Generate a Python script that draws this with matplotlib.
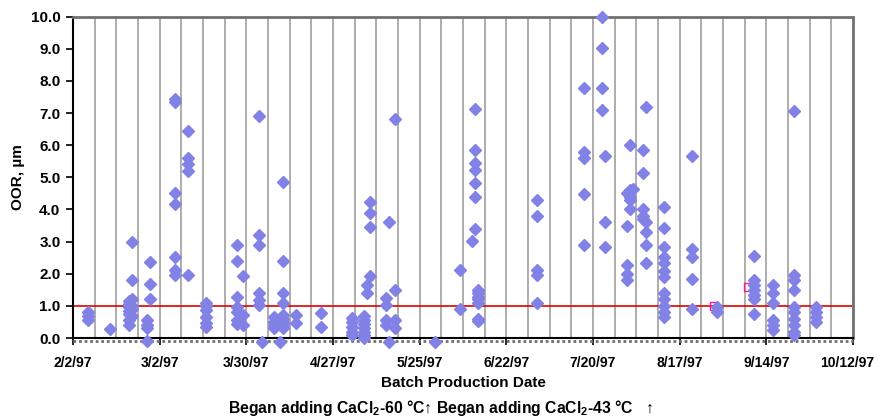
import matplotlib
matplotlib.use("Agg")
import matplotlib.pyplot as plt
import matplotlib.dates as mdates
from matplotlib.lines import Line2D
from matplotlib.transforms import offset_copy, ScaledTranslation
import pandas as pd

plt.rcParams['font.family'] = ['Liberation Sans', 'DejaVu Sans']
plt.rcParams['mathtext.fontset'] = 'custom'
plt.rcParams['mathtext.rm'] = 'Liberation Sans:bold'
plt.rcParams['mathtext.bf'] = 'Liberation Sans:bold'

# ---- data: OOR (µm) per batch production date ----
oor_groups = {
    "1997-02-07": [0.80, 0.68, 0.55],
    "1997-02-14": [0.28],
    "1997-02-20": [1.15, 1.05, 0.95, 0.85, 0.75, 0.55, 0.40],
    "1997-02-21": [3.0, 1.8, 1.2, 1.0, 0.9, 0.7],
    "1997-02-26": [0.55, 0.40, 0.31, -0.10],
    "1997-02-27": [2.38, 1.68, 1.20],
    "1997-03-07": [7.45, 7.35, 4.50, 4.17, 2.52, 2.12, 1.95],
    "1997-03-11": [6.43, 5.60, 5.40, 5.20, 1.96],
    "1997-03-17": [1.10, 1.00, 0.87, 0.66, 0.46, 0.35],
    "1997-03-27": [2.90, 2.41, 1.29, 0.98, 0.82, 0.56, 0.45],
    "1997-03-29": [1.93, 0.72, 0.40],
    "1997-04-03": [6.92, 3.21, 2.90, 1.39, 1.18, 1.03],
    "1997-04-04": [-0.12],
    "1997-04-08": [0.65, 0.50, 0.40, 0.30],
    "1997-04-10": [-0.12],
    "1997-04-11": [4.87, 2.41, 1.39, 1.08, 0.72, 0.60, 0.50, 0.40, 0.30],
    "1997-04-15": [0.72, 0.46],
    "1997-04-23": [0.77, 0.35],
    "1997-05-03": [0.62, 0.50, 0.35, 0.20, 0.10],
    "1997-05-07": [0.70, 0.55, 0.45, 0.30, 0.20, 0.10, 0.00],
    "1997-05-08": [1.65, 1.39],
    "1997-05-09": [4.22, 3.88, 3.47, 1.94],
    "1997-05-14": [1.24, 1.03, 0.55, 0.40],
    "1997-05-15": [3.60, -0.12],
    "1997-05-17": [6.81, 1.50, 0.55, 0.30],
    "1997-05-30": [-0.12],
    "1997-06-07": [2.12, 0.90],
    "1997-06-11": [3.03],
    "1997-06-12": [7.12, 5.84, 5.44, 5.23, 4.82, 4.38, 3.40],
    "1997-06-13": [1.50, 1.40, 1.29, 1.20, 1.08, 0.60, 0.52],
    "1997-07-02": [4.28, 3.80, 2.12, 1.96, 1.08],
    "1997-07-17": [7.78, 5.80, 5.60, 4.49, 2.90],
    "1997-07-23": [10.0, 9.04, 7.78, 7.10],
    "1997-07-24": [5.65, 3.60, 2.83],
    "1997-07-31": [4.50, 3.50, 2.27, 2.00, 1.80],
    "1997-08-01": [6.01, 4.60, 4.40, 4.30, 4.00],
    "1997-08-02": [4.65],
    "1997-08-05": [5.86, 5.13, 4.00, 3.80, 3.70],
    "1997-08-06": [7.20, 3.60, 3.31, 2.90, 2.33],
    "1997-08-12": [4.09, 3.42, 2.84, 2.53, 2.33, 2.10, 1.91, 1.40, 1.20, 1.00, 0.80, 0.65],
    "1997-08-21": [5.65, 2.76, 2.51, 1.83, 0.90],
    "1997-08-29": [0.95, 0.80],
    "1997-09-10": [2.56, 1.80, 1.65, 1.50, 1.35, 1.20, 0.75],
    "1997-09-16": [1.65, 1.40, 1.10, 0.56, 0.40, 0.25],
    "1997-09-23": [7.05, 1.97, 1.80, 1.50, 0.98, 0.80, 0.60, 0.40, 0.20, 0.10],
    "1997-09-30": [0.95, 0.80, 0.65, 0.50],
}
pink_dates = ["1997-08-28", "1997-09-08", "1997-09-23"]
pink_values = [1.0, 1.6, 1.9]

spec_limit = 1.0
tick_dates = ["1997-02-02", "1997-03-02", "1997-03-30", "1997-04-27", "1997-05-25",
              "1997-06-22", "1997-07-20", "1997-08-17", "1997-09-14", "1997-10-12"]
tick_labels = ["2/2/97", "3/2/97", "3/30/97", "4/27/97", "5/25/97",
               "6/22/97", "7/20/97", "8/17/97", "9/14/97", "10/12/97"]
y_ticks = [0, 1, 2, 3, 4, 5, 6, 7, 8, 9, 10]

dates, values = [], []
for d, vs in oor_groups.items():
    for v in vs:
        dates.append(pd.Timestamp(d))
        values.append(v)

fig = plt.figure(figsize=(8.79, 4.20), dpi=100)
ax = fig.add_axes([73/879, (420-338)/420, (853-73)/879, (338-16.7)/420])

xmin, xmax = pd.Timestamp(tick_dates[0]), pd.Timestamp(tick_dates[-1])
ax.set_xlim(xmin, xmax)
ax.set_ylim(0, 10)

# weekly vertical gridlines
weekly = pd.date_range(xmin, xmax, freq="7D")
for w in weekly[1:-1]:
    ax.axvline(w, color="#a0a0a0", lw=1.2, zorder=1)

ax.axhline(spec_limit, color="#e00000", lw=1.2, zorder=2)

ax.plot(pd.to_datetime(pink_dates), pink_values, ls="none", marker="s", ms=5.2,
        mfc="none", mec="#ff1493", mew=1.0, zorder=3, clip_on=False)
ax.plot(dates, values, ls="none", marker="D", ms=6.4, color="#8282e6",
        mec="#8282e6", zorder=4, clip_on=False)

ax.set_xticks(pd.to_datetime(tick_dates))
ax.set_xticklabels(tick_labels, fontweight="bold", fontsize=10)
ax.set_yticks(y_ticks)
ax.set_yticklabels([f"{t:.1f}" for t in y_ticks], fontweight="bold", fontsize=11)
ax.tick_params(axis="both", direction="out", length=5, width=1.2, color="black")
ax.tick_params(axis="x", pad=8)
ax.tick_params(axis="y", pad=4)
last = ax.get_xticklabels()[-1]
last.set_transform(last.get_transform() + ScaledTranslation(-4/72, 0, fig.dpi_scale_trans))

for s in ["top", "right"]:
    ax.spines[s].set_color("#707070")
    ax.spines[s].set_linewidth(2)
    ax.spines[s].set_linestyle((0, (1, 1)))
ax.spines["left"].set_color("black")
ax.spines["left"].set_linewidth(1.5)
ax.spines["bottom"].set_color("black")
ax.spines["bottom"].set_linewidth(1.5)
trans = offset_copy(ax.transAxes, fig=fig, x=0, y=-2.5, units="dots")
ax.add_line(Line2D([0, 1], [0, 0], transform=trans, color="#707070", lw=2,
                   ls=(0, (1, 1)), clip_on=False))

ax.set_ylabel("OOR, µm", fontweight="bold", fontsize=11, labelpad=4)
fig.text(0.5 * (73 + 853) / 879, (420 - 383) / 420, "Batch Production Date",
         ha="center", va="center", fontweight="bold", fontsize=11)
fig.text(228 / 879, (420 - 408) / 420,
         "Began adding CaCl$_2$-60 °C↑ Began adding CaCl$_2$-43 °C   ↑",
         ha="left", va="center", fontweight="bold", fontsize=11.3)

fig.savefig("out.png", dpi=100)
